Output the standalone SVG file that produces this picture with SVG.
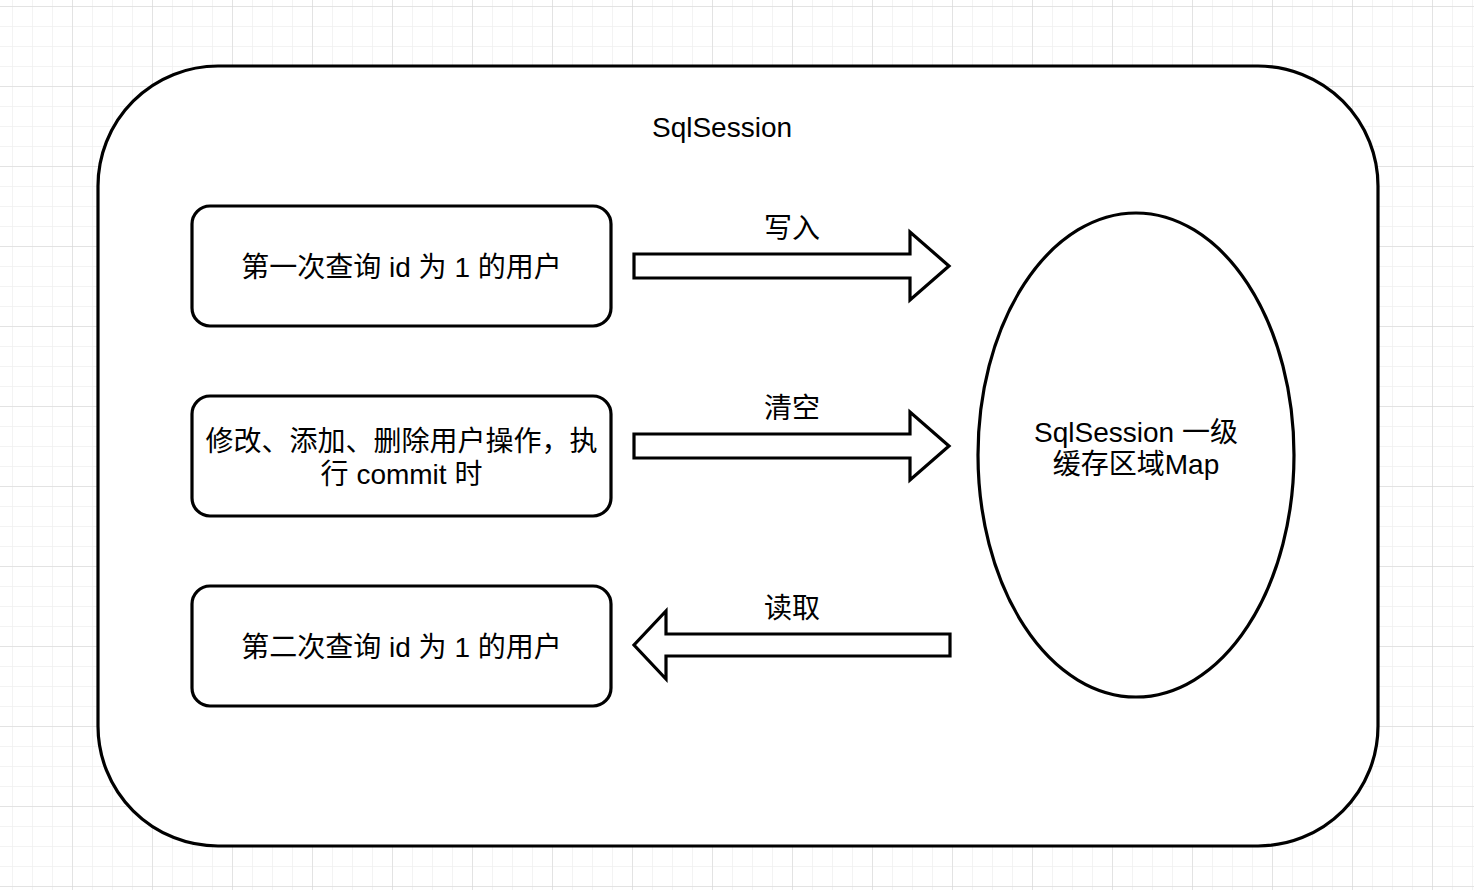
<svg xmlns="http://www.w3.org/2000/svg" width="1474" height="890" viewBox="0 0 1474 890">
  <defs>
    <pattern id="minor" x="12" y="6" width="20" height="20" patternUnits="userSpaceOnUse">
      <path d="M0 0V20M0 0H20" fill="none" stroke="#f0f0f0" stroke-width="1.5"/>
    </pattern>
    <pattern id="major" x="72" y="6" width="80" height="80" patternUnits="userSpaceOnUse">
      <path d="M0 0V80M0 0H80" fill="none" stroke="#d3d3d3" stroke-width="1"/>
    </pattern>
    <style>
      .shape { fill: #ffffff; stroke: #000000; stroke-width: 3.2; }
      .txt { font-family: "Liberation Sans", "Noto Sans CJK SC", sans-serif; font-size: 28px; fill: #000000; text-anchor: middle; }
    </style>
  </defs>
  <rect width="1474" height="890" fill="#ffffff"/>
  <rect width="1474" height="890" fill="url(#minor)"/>
  <rect width="1474" height="890" fill="url(#major)"/>

  <g id="sqlsession">
    <rect class="shape" x="98" y="66" width="1280" height="780" rx="120" ry="120"/>
    <text class="txt" x="722" y="137">SqlSession</text>
  </g>

  <g id="query1">
    <rect class="shape" x="192" y="206" width="419" height="120" rx="18" ry="18"/>
    <text class="txt" x="401.5" y="277">第一次查询 id 为 1 的用户</text>
  </g>

  <g id="modify">
    <rect class="shape" x="192" y="396" width="419" height="120" rx="18" ry="18"/>
    <text class="txt" x="401.5" y="451">修改、添加、删除用户操作，执</text>
    <text class="txt" x="401.5" y="484">行 commit 时</text>
  </g>

  <g id="query2">
    <rect class="shape" x="192" y="586" width="419" height="120" rx="18" ry="18"/>
    <text class="txt" x="401.5" y="657">第二次查询 id 为 1 的用户</text>
  </g>

  <g id="cache">
    <ellipse class="shape" cx="1136" cy="455" rx="158" ry="242"/>
    <text class="txt" x="1136" y="442">SqlSession 一级</text>
    <text class="txt" x="1136" y="474">缓存区域Map</text>
  </g>

  <g id="connectors">
    <polygon class="shape" points="634,254 910,254 910,232 949,266 910,300 910,278 634,278"/>
    <text class="txt" x="792" y="238">写入</text>
    <polygon class="shape" points="634,434 910,434 910,412 949,446 910,480 910,458 634,458"/>
    <text class="txt" x="792" y="418">清空</text>
    <polygon class="shape" points="950,634 666,634 666,611 634,645 666,679 666,656 950,656"/>
    <text class="txt" x="792" y="618">读取</text>
  </g>
</svg>
